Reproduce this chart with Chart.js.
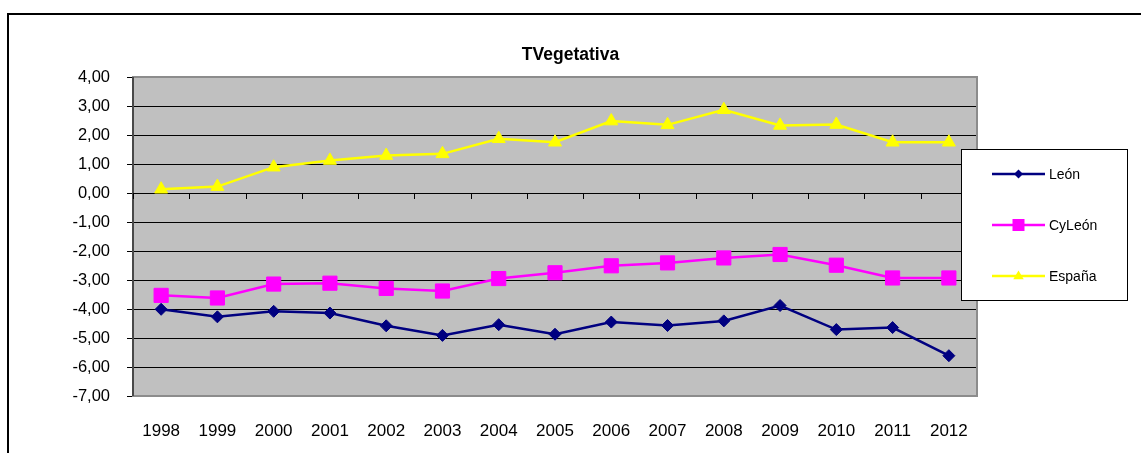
<!DOCTYPE html>
<html><head><meta charset="utf-8">
<script src="https://cdn.jsdelivr.net/npm/chart.js@4"></script>
<style>html,body{margin:0;padding:0;background:#fff}#wrap{width:1141px;height:453px;position:relative}</style>
</head><body><div id="wrap"><canvas id="c" width="1141" height="453"></canvas></div>
<script>
const categories = ['1998','1999','2000','2001','2002','2003','2004','2005','2006','2007','2008','2009','2010','2011','2012'];
const leon   = [-4.01,-4.27,-4.08,-4.14,-4.58,-4.91,-4.54,-4.87,-4.45,-4.57,-4.41,-3.88,-4.71,-4.64,-5.61];
const cyleon = [-3.53,-3.62,-3.14,-3.11,-3.29,-3.38,-2.95,-2.75,-2.51,-2.41,-2.24,-2.12,-2.49,-2.93,-2.93];
const espana = [0.13,0.22,0.89,1.12,1.29,1.35,1.87,1.75,2.48,2.35,2.87,2.33,2.36,1.75,1.75];
const seriesNames = ['León','CyLeón','España'];
const yMin = -7, yMax = 4, yStep = 1;

const FN = "'Liberation Sans',Arial,sans-serif";

function drawMarker(ctx, style, x, y, r, color){
  ctx.save(); ctx.fillStyle = color; ctx.strokeStyle = color; ctx.lineWidth = 1;
  ctx.beginPath();
  if (style === 'rectRot'){ ctx.moveTo(x, y-r); ctx.lineTo(x+r, y); ctx.lineTo(x, y+r); ctx.lineTo(x-r, y); }
  else if (style === 'rect'){ ctx.rect(x-r, y-r, 2*r, 2*r); }
  else { ctx.moveTo(x, y-r); ctx.lineTo(x+r*0.95, y+r*0.6); ctx.lineTo(x-r*0.95, y+r*0.6); }
  ctx.closePath(); ctx.fill(); ctx.restore();
}

const decor = {
  id: 'decor',
  beforeDraw(chart){
    const {ctx, chartArea:a} = chart;
    ctx.save(); ctx.fillStyle = '#C0C0C0';
    ctx.fillRect(a.left, a.top, a.right-a.left, a.bottom-a.top); ctx.restore();
  },
  beforeDatasetsDraw(chart){
    const {ctx, chartArea:a, scales:{x, y}} = chart;
    ctx.save();
    ctx.strokeStyle = '#8c8c8c'; ctx.lineWidth = 2;
    ctx.strokeRect(a.left, a.top, a.right-a.left, a.bottom-a.top);
    ctx.strokeStyle = '#333'; ctx.lineWidth = 1.5;
    ctx.beginPath(); ctx.moveTo(a.left, a.top); ctx.lineTo(a.left, a.bottom); ctx.stroke();
    const y0 = y.getPixelForValue(0);
    const n = categories.length;
    const half = (x.getPixelForTick(1) - x.getPixelForTick(0)) / 2;
    ctx.strokeStyle = '#000'; ctx.lineWidth = 1;
    ctx.beginPath();
    for (let i = 0; i <= n; i++){
      const px = Math.round(i < n ? x.getPixelForTick(i) - half : x.getPixelForTick(n-1) + half) + 0.5;
      ctx.moveTo(px, y0); ctx.lineTo(px, y0 + 6);
    }
    ctx.stroke(); ctx.restore();
  },
  afterDraw(chart){
    const {ctx} = chart;
    ctx.save();
    ctx.fillStyle = '#fff'; ctx.fillRect(961, 149, 166, 151);
    ctx.strokeStyle = '#000'; ctx.lineWidth = 1; ctx.strokeRect(961.5, 149.5, 166, 151);
    const lr = [4.5, 6, 5.5];
    chart.data.datasets.forEach((ds, i) => {
      const yy = 174 + i * 51;
      ctx.strokeStyle = ds.borderColor; ctx.lineWidth = 2.5;
      ctx.beginPath(); ctx.moveTo(992, yy); ctx.lineTo(1045, yy); ctx.stroke();
      drawMarker(ctx, ds.pointStyle, 1018.5, yy, lr[i], ds.backgroundColor);
      ctx.fillStyle = '#000'; ctx.font = '14px ' + FN; ctx.textBaseline = 'middle'; ctx.textAlign = 'left';
      ctx.fillText(ds.label, 1049, yy + 1);
    });
    ctx.strokeStyle = '#000'; ctx.lineWidth = 2;
    ctx.strokeRect(8, 14, 1300, 1300);
    ctx.restore();
  }
};

new Chart(document.getElementById('c'), {
  type: 'line',
  data: {
    labels: categories,
    datasets: [
      {label: seriesNames[0], data: leon, borderColor: '#000080', backgroundColor: '#000080', pointStyle: 'rectRot', pointRadius: 6, borderWidth: 2.5, pointBorderWidth: 1},
      {label: seriesNames[1], data: cyleon, borderColor: '#FF00FF', backgroundColor: '#FF00FF', pointStyle: 'rect', pointRadius: 10, borderWidth: 2.5, pointBorderWidth: 1},
      {label: seriesNames[2], data: espana, borderColor: '#FFFF00', backgroundColor: '#FFFF00', pointStyle: 'triangle', pointRadius: 7.5, borderWidth: 2.5, pointBorderWidth: 1}
    ]
  },
  options: {
    responsive: false, animation: false, devicePixelRatio: 1,
    layout: {padding: {left: 0, right: 0, top: 0, bottom: 0}},
    elements: {line: {tension: 0}},
    plugins: {
      legend: {display: false},
      tooltip: {enabled: false},
      title: {display: true, text: 'TVegetativa', color: '#000', font: {family: FN, size: 17.5, weight: 'bold', lineHeight: 1.2}, padding: {top: 45, bottom: 11}}
    },
    scales: {
      x: {
        offset: true,
        grid: {display: false, drawTicks: false},
        border: {display: false},
        ticks: {color: '#000', font: {family: FN, size: 17}, padding: 25, maxRotation: 0, autoSkip: false},
        afterFit(s){ s.height = 57; }
      },
      y: {
        min: yMin, max: yMax,
        grid: {color: '#000', lineWidth: 1, tickLength: 6, tickColor: '#000'},
        border: {display: false},
        ticks: {stepSize: yStep, color: '#000', font: {family: FN, size: 16.5}, padding: 17,
          callback: v => v.toFixed(2).replace('.', ',')},
        afterFit(s){ s.width = 133; }
      },
      yR: {
        position: 'right', min: yMin, max: yMax,
        grid: {display: false, drawTicks: false},
        border: {display: false},
        ticks: {display: false},
        afterFit(s){ s.width = 164; }
      }
    }
  },
  plugins: [decor]
});
</script></body></html>
